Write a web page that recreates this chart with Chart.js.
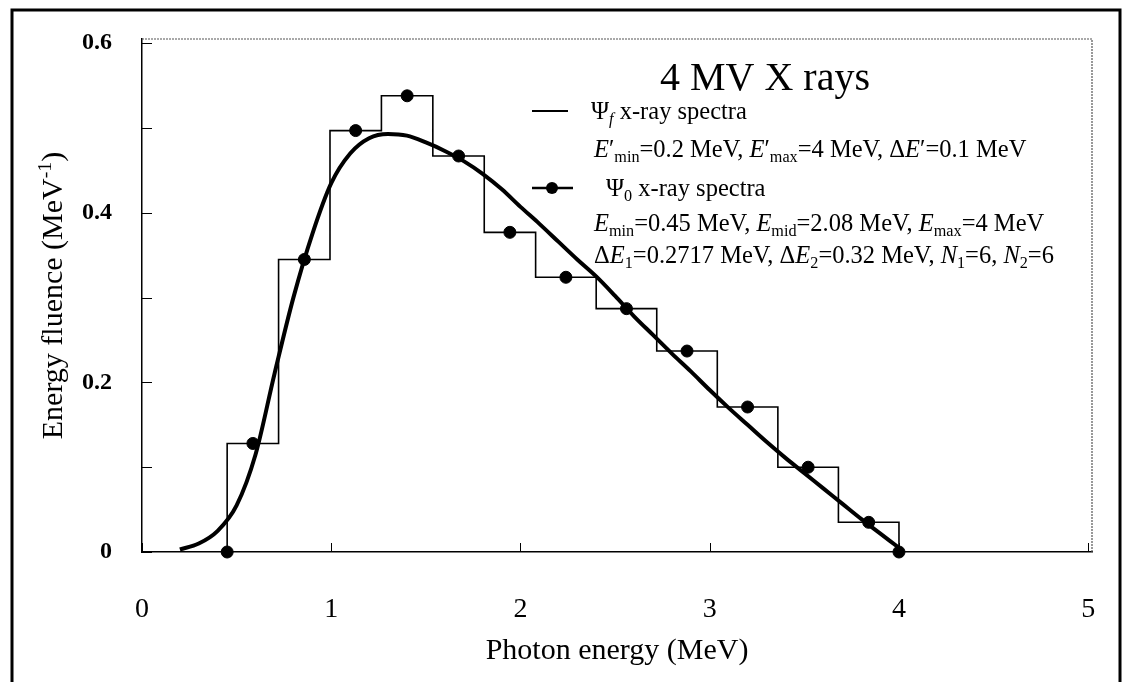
<!DOCTYPE html>
<html><head><meta charset="utf-8">
<script src="https://cdn.jsdelivr.net/npm/chart.js@4.4.1/dist/chart.umd.min.js"></script>
<style>html,body{margin:0;padding:0;background:#fff;} canvas{display:block;}</style>
</head><body>
<canvas id="c" width="1122" height="682"></canvas>
<script>
// ---------- data ----------
const chartTitle = '4 MV X rays';
const xAxisTitle = 'Photon energy (MeV)';
const yAxisTitleParts = ['Energy fluence (MeV', '-1', ')'];
const xTickValues = [0, 1, 2, 3, 4, 5];
const yTickValues = [0, 0.2, 0.4, 0.6];
const yMinorTickValues = [0, 0.1, 0.2, 0.3, 0.4, 0.5, 0.6];

// Psi_f smooth spectrum (E' from 0.2 to 4 MeV, step 0.1 MeV)
const curveEnergies = [0.2,0.3,0.4,0.5,0.6,0.7,0.8,0.9,1.0,1.1,1.2,1.3,1.4,1.5,1.6,1.7,1.8,1.9,2.0,
  2.1,2.2,2.3,2.4,2.5,2.6,2.7,2.8,2.9,3.0,3.1,3.2,3.3,3.4,3.5,3.6,3.7,3.8,3.9,4.0];
const curveFluence = [0.003,0.010,0.025,0.055,0.115,0.210,0.300,0.375,0.435,0.470,0.488,0.493,0.491,0.483,
  0.473,0.461,0.446,0.428,0.407,0.387,0.366,0.345,0.325,0.302,0.278,0.256,0.234,0.213,0.191,0.170,0.150,
  0.130,0.111,0.093,0.075,0.057,0.039,0.022,0.005];

// Psi_0 histogram: bin edges (MeV) and bin heights
const binEdges = [0.45,0.7217,0.9934,1.2651,1.5368,1.8085,2.08,2.40,2.72,3.04,3.36,3.68,4.00];
const binFluence = [0.128,0.345,0.497,0.538,0.467,0.377,0.324,0.287,0.237,0.171,0.100,0.035];

// Psi_0 points (bin centres plus end points)
const dotEnergies = [0.45,0.586,0.858,1.129,1.401,1.673,1.944,2.24,2.56,2.88,3.20,3.52,3.84,4.00];
const dotFluence = [0,0.128,0.345,0.497,0.538,0.467,0.377,0.324,0.287,0.237,0.171,0.100,0.035,0];

// legend text
const legendLines = [
  [{t:'\u03A8'},{t:'f',sub:true,i:true},{t:' x-ray spectra'}],
  [{t:'E',i:true},{t:'\u2032'},{t:'min',sub:true},{t:'=0.2 MeV, '},{t:'E',i:true},{t:'\u2032'},{t:'max',sub:true},
   {t:'=4 MeV, \u0394'},{t:'E',i:true},{t:'\u2032=0.1 MeV'}],
  [{t:'\u03A8'},{t:'0',sub:true},{t:' x-ray spectra'}],
  [{t:'E',i:true},{t:'min',sub:true},{t:'=0.45 MeV, '},{t:'E',i:true},{t:'mid',sub:true},{t:'=2.08 MeV, '},
   {t:'E',i:true},{t:'max',sub:true},{t:'=4 MeV'}],
  [{t:'\u0394'},{t:'E',i:true},{t:'1',sub:true},{t:'=0.2717 MeV, \u0394'},{t:'E',i:true},{t:'2',sub:true},
   {t:'=0.32 MeV, '},{t:'N',i:true},{t:'1',sub:true},{t:'=6, '},{t:'N',i:true},{t:'2',sub:true},{t:'=6'}]
];

// ---------- build ----------
const FAM = '"Liberation Serif", "Times New Roman", serif';
const curveData = curveEnergies.map((e, i) => ({x: e, y: curveFluence[i]}));
const histData = [{x: binEdges[0], y: 0}];
binFluence.forEach((v, i) => histData.push({x: binEdges[i], y: v}));
histData.push({x: binEdges[binEdges.length - 1], y: 0});
const dotData = dotEnergies.map((e, i) => ({x: e, y: dotFluence[i]}));

function drawRich(ctx, x, y, segs, size) {
  for (const s of segs) {
    const fs = (s.sub || s.sup) ? size * 0.66 : size;
    ctx.font = (s.i ? 'italic ' : '') + fs.toFixed(1) + 'px ' + FAM;
    const dy = s.sub ? size * 0.22 : (s.sup ? -size * 0.36 : 0);
    ctx.fillText(s.t, x, y + dy);
    x += ctx.measureText(s.t).width;
  }
  return x;
}
function richWidth(ctx, segs, size) {
  let w = 0;
  for (const s of segs) {
    const fs = (s.sub || s.sup) ? size * 0.66 : size;
    ctx.font = (s.i ? 'italic ' : '') + fs.toFixed(1) + 'px ' + FAM;
    w += ctx.measureText(s.t).width;
  }
  return w;
}

const decor = {
  id: 'decor',
  afterDraw(chart) {
    const ctx = chart.ctx;
    const xs = chart.scales.x, ys = chart.scales.y;
    const a = chart.chartArea;
    ctx.save();
    // dotted top & right frame
    ctx.strokeStyle = '#555';
    ctx.lineWidth = 1.2;
    ctx.setLineDash([2, 1]);
    ctx.beginPath();
    ctx.moveTo(a.left, a.top); ctx.lineTo(a.right, a.top); ctx.lineTo(a.right, a.bottom);
    ctx.stroke();
    ctx.setLineDash([]);
    // inward ticks
    ctx.strokeStyle = '#000';
    ctx.lineWidth = 1;
    ctx.beginPath();
    yMinorTickValues.forEach(v => {
      const py = Math.round(ys.getPixelForValue(v)) + 0.5;
      ctx.moveTo(a.left, py); ctx.lineTo(a.left + 10, py);
    });
    xTickValues.forEach(v => {
      const px = Math.round(xs.getPixelForValue(v)) + 0.5;
      ctx.moveTo(px, a.bottom); ctx.lineTo(px, a.bottom - 9);
    });
    ctx.stroke();
    // outer frame
    ctx.lineWidth = 3;
    ctx.strokeRect(12, 10, 1108, 700);
    // y axis title with superscript
    ctx.fillStyle = '#000';
    ctx.textAlign = 'left';
    ctx.textBaseline = 'alphabetic';
    const ysegs = [{t: yAxisTitleParts[0]}, {t: yAxisTitleParts[1], sup: true}, {t: yAxisTitleParts[2]}];
    const ySize = 30;
    const yw = richWidth(ctx, ysegs, ySize);
    ctx.save();
    ctx.translate(62, (a.top + a.bottom) / 2);
    ctx.rotate(-Math.PI / 2);
    drawRich(ctx, -yw / 2, 0, ysegs, ySize);
    ctx.restore();
    // chart title
    ctx.font = '40px ' + FAM;
    ctx.textAlign = 'center';
    ctx.fillText(chartTitle, 765, 90);
    ctx.textAlign = 'left';
    // legend
    const LS = 24.5;
    ctx.lineWidth = 2;
    ctx.beginPath(); ctx.moveTo(532, 111); ctx.lineTo(568, 111); ctx.stroke();
    ctx.lineWidth = 2.5;
    ctx.beginPath(); ctx.moveTo(532, 188); ctx.lineTo(573, 188); ctx.stroke();
    ctx.beginPath(); ctx.arc(552, 188, 6, 0, Math.PI * 2); ctx.fill();
    drawRich(ctx, 591, 119, legendLines[0], LS);
    drawRich(ctx, 594, 157, legendLines[1], LS);
    drawRich(ctx, 606, 196, legendLines[2], LS);
    drawRich(ctx, 594, 231, legendLines[3], LS);
    drawRich(ctx, 594, 263, legendLines[4], LS);
    ctx.restore();
  }
};

new Chart(document.getElementById('c'), {
  type: 'scatter',
  data: {
    datasets: [
      { label: 'Psi_0 histogram', data: histData, showLine: true, stepped: 'before',
        borderColor: '#000', borderWidth: 1.6, pointRadius: 0, order: 3 },
      { label: 'Psi_f x-ray spectra', data: curveData, showLine: true, cubicInterpolationMode: 'monotone',
        borderColor: '#000', borderWidth: 4, pointRadius: 0, order: 2 },
      { label: 'Psi_0 x-ray spectra', data: dotData, showLine: false, pointRadius: 6,
        pointBackgroundColor: '#000', pointBorderColor: '#000', clip: 10, order: 1 }
    ]
  },
  options: {
    responsive: false,
    animation: false,
    layout: { padding: { top: 39, right: 30, left: 0, bottom: 0 } },
    plugins: { legend: { display: false }, tooltip: { enabled: false } },
    scales: {
      x: {
        type: 'linear', min: 0, max: 5.02,
        afterBuildTicks: s => { s.ticks = xTickValues.map(v => ({value: v})); },
        afterFit: s => { s.height = 130; s.paddingLeft = 0; s.paddingRight = 0; },
        grid: { display: false },
        border: { display: true, color: '#000', width: 1.5 },
        ticks: { color: '#000', font: { family: FAM, size: 28 }, padding: 33, maxRotation: 0,
          callback: v => String(v) },
        title: { display: true, text: xAxisTitle, color: '#000', font: { family: FAM, size: 30 },
          padding: { top: 0, bottom: 13 } }
      },
      y: {
        type: 'linear', min: 0, max: 0.605,
        afterBuildTicks: s => { s.ticks = yTickValues.map(v => ({value: v})); },
        afterFit: s => { s.width = 142; s.paddingTop = 0; s.paddingBottom = 0; },
        grid: { display: false },
        border: { display: true, color: '#000', width: 1.5 },
        ticks: { color: '#000', font: { family: FAM, size: 24, weight: 'bold' }, padding: 22,
          callback: v => (v === 0 ? '0' : v.toFixed(1)) },
        title: { display: false }
      }
    }
  },
  plugins: [decor]
});
</script>
</body></html>
